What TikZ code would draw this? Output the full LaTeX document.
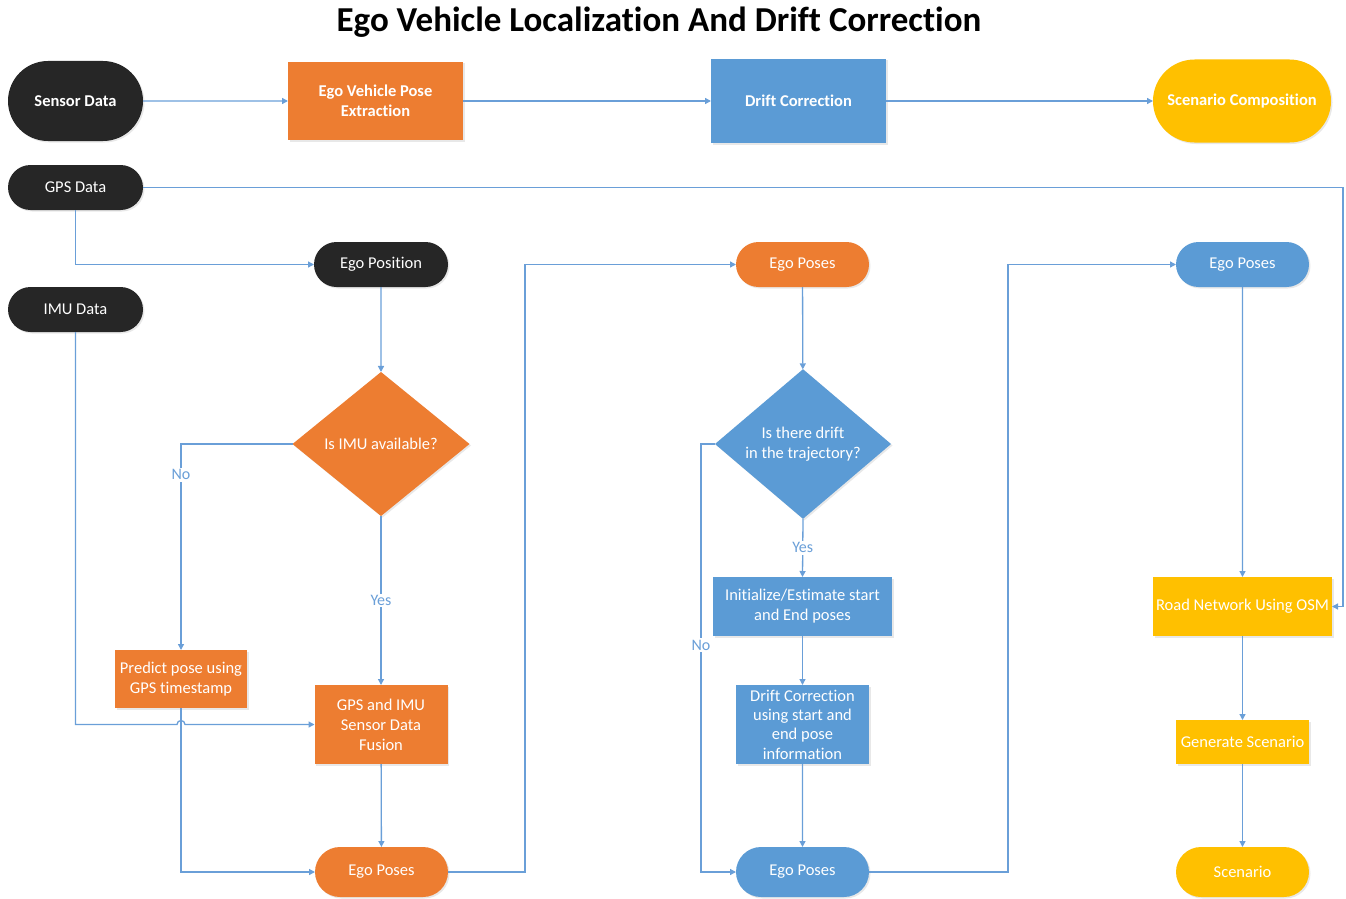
\documentclass[tikz,border=0pt]{standalone}
\usepackage{fontspec}
\setmainfont{Carlito}[Ligatures=NoCommon]
\usetikzlibrary{shapes.geometric,shapes.misc,arrows.meta,shadows}
\definecolor{cblack}{HTML}{262626}
\definecolor{corange}{HTML}{ED7D31}
\definecolor{cblue}{HTML}{5B9BD5}
\definecolor{cyellow}{HTML}{FFC000}
\definecolor{lc}{HTML}{6A9FD8}
\begin{document}
\begin{tikzpicture}[x=1pt,y=-1pt,
  base/.style={text=white, font=\fontsize{16.5}{20}\selectfont, align=center, inner sep=0pt, outer sep=0pt,
    drop shadow={shadow xshift=1.5pt,shadow yshift=-1.5pt,opacity=0.18}},
  boldtxt/.style={font=\fontsize{16.5}{20}\selectfont\bfseries},
  stad/.style={base, rounded rectangle},
  box/.style={base, rectangle},
  dia/.style={base, diamond},
  conn/.style={draw=lc, line width=1.3pt, -{Triangle[length=6pt,width=6pt]}},
  lbl/.style={fill=white, text=lc, font=\fontsize{16}{18}\selectfont, inner sep=1.5pt}
]
\useasboundingbox (0,0) rectangle (1346,899);

\node[font=\fontsize{35}{40}\selectfont\bfseries, text=black] (title) at (659,22) {Ego Vehicle Localization And Drift Correction};

% top row
\node[stad, fill=cblack, minimum width=135, minimum height=80, boldtxt] (sensor) at (75.5,101) {Sensor Data};
\node[box, fill=corange, minimum width=175, minimum height=78, boldtxt] (evpe) at (375.5,101) {Ego Vehicle Pose\\Extraction};
\node[box, fill=cblue, minimum width=175, minimum height=84, boldtxt] (dc) at (798.5,101) {Drift Correction};
\node[stad, fill=cyellow, minimum width=178, minimum height=83, boldtxt] (sc) at (1242,101) {Scenario Composition};

% sources
\node[stad, fill=cblack, minimum width=135, minimum height=45] (gps) at (75.5,187.5) {GPS Data};
\node[stad, fill=cblack, minimum width=135, minimum height=45] (imu) at (75.5,309.5) {IMU Data};

% column 1
\node[stad, fill=cblack, minimum width=134, minimum height=45] (egopos) at (381,264.5) {Ego Position};
\node[dia, fill=corange, minimum width=177, minimum height=144] (imuq) at (381,444) {Is IMU available?};
\node[box, fill=corange, minimum width=132, minimum height=58] (predict) at (181,679) {Predict pose using\\GPS timestamp};
\node[box, fill=corange, minimum width=133, minimum height=79] (fusion) at (381,724.5) {GPS and IMU\\Sensor Data\\Fusion};
\node[stad, fill=corange, minimum width=133, minimum height=50] (ep1) at (381.5,872) {Ego Poses};

% column 2
\node[stad, fill=corange, minimum width=133, minimum height=45] (ep2) at (802.5,264.5) {Ego Poses};
\node[dia, fill=cblue, minimum width=176, minimum height=144] (driftq) at (803,444) {Is there drift\\in the trajectory?};
\node[box, fill=cblue, minimum width=179, minimum height=59] (init) at (802.5,606.5) {Initialize/Estimate start\\and End poses};
\node[box, fill=cblue, minimum width=133, minimum height=79, font=\fontsize{16.5}{19.3}\selectfont] (dcu) at (802.5,724.5) {Drift Correction\\using start and\\end pose\\information};
\node[stad, fill=cblue, minimum width=133, minimum height=50] (ep3) at (802.5,872) {Ego Poses};

% column 3
\node[stad, fill=cblue, minimum width=133, minimum height=45] (ep4) at (1242.5,264.5) {Ego Poses};
\node[box, fill=cyellow, minimum width=179, minimum height=59] (road) at (1242.5,606.5) {Road Network Using OSM};
\node[box, fill=cyellow, minimum width=133, minimum height=44] (gen) at (1242.5,742) {Generate Scenario};
\node[stad, fill=cyellow, minimum width=133, minimum height=50] (scen) at (1242.5,872) {Scenario};

% helper coordinates
\coordinate (gpsR) at (1343,187.5);
\coordinate (hopA) at (177,724.5);
\coordinate (c1b) at (525,872);
\coordinate (c2a) at (701,444);
\coordinate (c2b) at (701,872);
\coordinate (c3b) at (1008,872);

% connectors
\draw[conn] (sensor) -- (evpe);
\draw[conn] (evpe) -- (dc);
\draw[conn] (dc) -- (sc);
\draw[conn] (gps.east) -- (gpsR) |- (road.east);
\draw[conn] (gps.south) |- (egopos.west);
\draw[conn] (egopos) -- (imuq);
\draw[conn] (imuq.west) -| node[lbl, pos=0.575] {No} (predict.north);
\draw[conn] (imuq.south) -- node[lbl, pos=0.5] {Yes} (fusion.north);
\draw[conn] (imu.south) |- (hopA) arc[start angle=180, end angle=360, radius=4] -- (fusion.west);
\draw[conn] (predict.south) |- (ep1.west);
\draw[conn] (fusion) -- (ep1);
\draw[conn] (ep1.east) -- (c1b) |- (ep2.west);
\draw[conn] (ep2) -- (driftq);
\draw[conn] (driftq.south) -- node[lbl, pos=0.5] {Yes} (init.north);
\draw[conn] (driftq.west) -- (c2a) -- node[lbl, pos=0.47] {No} (c2b) -- (ep3.west);
\draw[conn] (init) -- (dcu);
\draw[conn] (dcu) -- (ep3);
\draw[conn] (ep3.east) -- (c3b) |- (ep4.west);
\draw[conn] (ep4) -- (road);
\draw[conn] (road) -- (gen);
\draw[conn] (gen) -- (scen);
\end{tikzpicture}
\end{document}
